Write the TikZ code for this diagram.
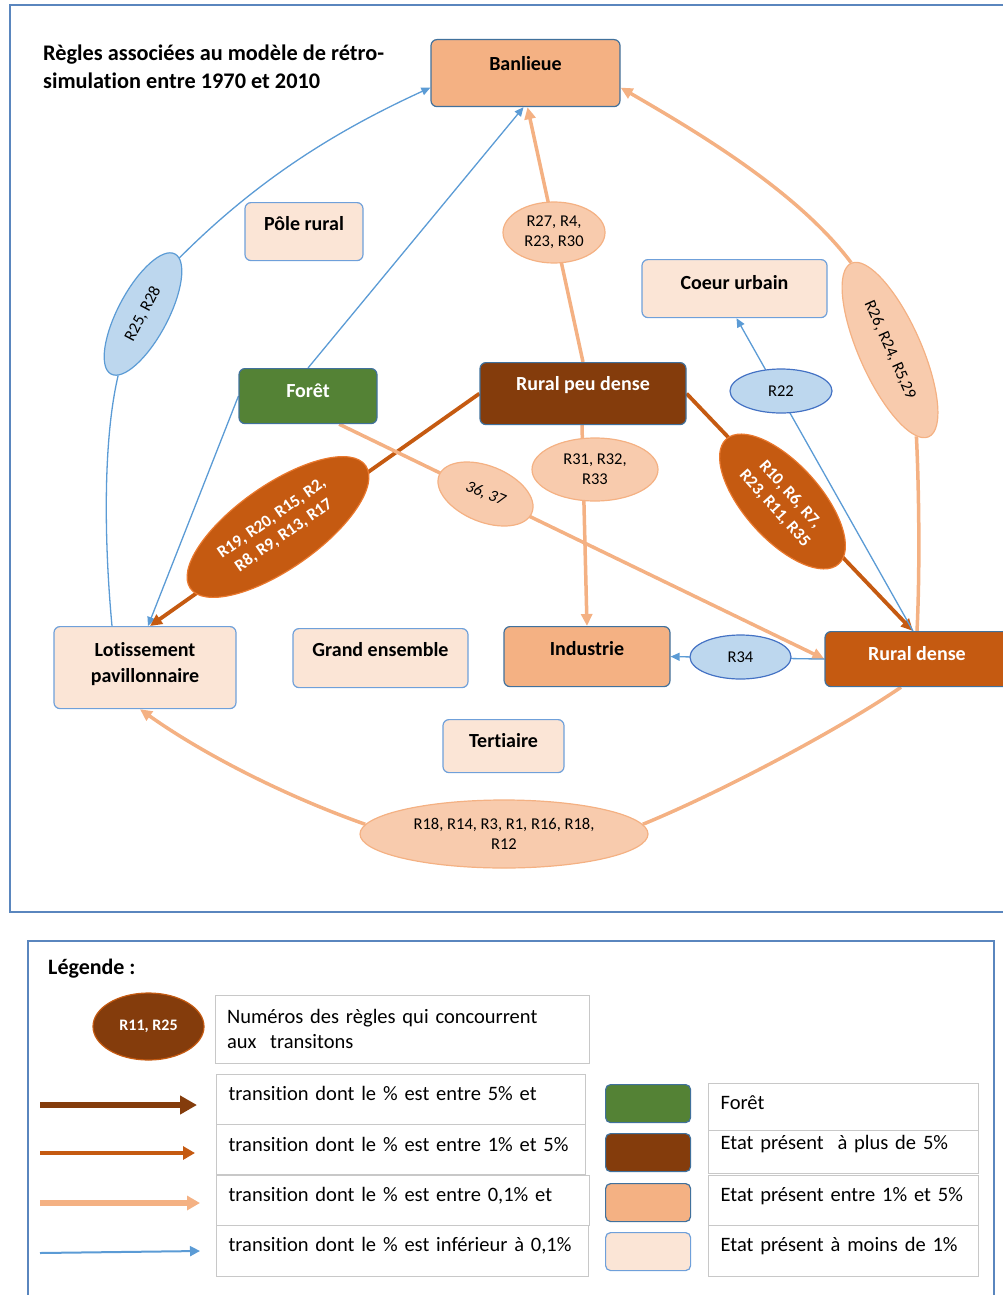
\documentclass[tikz,border=0pt]{standalone}
\usepackage{fontspec}
\setmainfont{Carlito}[Ligatures=NoCommon]
\usetikzlibrary{arrows.meta,shapes.geometric,calc}
\pgfdeclarelayer{bg}
\pgfsetlayers{bg,main}
\definecolor{dbrown}{HTML}{843C0C}
\definecolor{rust}{HTML}{C55A11}
\definecolor{rustedge}{HTML}{E9782E}
\definecolor{lorange}{HTML}{F4B183}
\definecolor{peach}{HTML}{F8CBAD}
\definecolor{cream}{HTML}{FBE5D6}
\definecolor{fgreen}{HTML}{548235}
\definecolor{lblue}{HTML}{5B9BD5}
\definecolor{pblue}{HTML}{BDD7EE}
\definecolor{mblue}{HTML}{4472C4}
\definecolor{dboxblue}{HTML}{41719C}
\definecolor{lboxblue}{HTML}{6FA0DA}
\definecolor{framec}{HTML}{5A86BE}
\definecolor{legrey}{HTML}{C8C8C8}
\tikzset{
 statebox/.style={rectangle, rounded corners=6pt, line width=1.2pt, inner sep=0pt, anchor=north, font=\fontsize{20}{26}\selectfont\bfseries},
 lightbox/.style={statebox, fill=cream, draw=lboxblue},
 midbox/.style={statebox, fill=lorange, draw=dboxblue},
 darkbox/.style={statebox, fill=dbrown, draw=dboxblue, text=white},
 greenbox/.style={statebox, fill=fgreen, draw=dboxblue, text=white},
 rustbox/.style={statebox, fill=rust, draw=dboxblue, text=white},
 ell/.style={ellipse, inner sep=0pt, line width=1.2pt, align=center, font=\fontsize{16.5}{20}\selectfont},
 peachell/.style={ell, fill=peach, draw=lorange},
 blueell/.style={ell, fill=pblue, draw=mblue},
 rustell/.style={ell, fill=rust, draw=rustedge, text=white, font=\fontsize{17}{21}\selectfont\bfseries},
 bluearr/.style={draw=lblue, line width=1.3pt, -{Triangle[length=9pt,width=8pt]}},
 bluelin/.style={draw=lblue, line width=1.3pt},
 orarr/.style={draw=lorange, line width=3.5pt, -{Triangle[length=12pt,width=11pt]}},
 orlin/.style={draw=lorange, line width=3.5pt},
 rustarr/.style={draw=rust, line width=3.8pt, -{Triangle[length=12pt,width=11pt]}},
 legbox/.style={draw=legrey, line width=1.2pt, fill=white, anchor=north west, inner ysep=0pt, inner xsep=12pt, align=left, font=\fontsize{20.5}{25}\selectfont},
 swatch/.style={rectangle, rounded corners=5pt, line width=1.2pt, draw=dboxblue, anchor=north west, minimum width=85pt, minimum height=38pt, inner sep=0pt},
}
\begin{document}
\begin{tikzpicture}[x=1pt,y=-1pt]
\clip (0,0) rectangle (1003,1295);
% frames
\draw[framec, line width=1.2pt] (10,5) rectangle (1015,912);
\draw[framec, line width=1.2pt] (28,941) rectangle (994,1310);

% title
\node[anchor=base west, inner sep=0pt, font=\fontsize{22.3}{28}\selectfont\bfseries] (title) at (43,61)
 {\begin{tabular}[t]{@{}l@{}}Règles associées au modèle de rétro-\\simulation entre 1970 et 2010\end{tabular}};

% state boxes
\node[midbox, minimum width=189pt, text height=30.5pt, text depth=36.5pt] (banl) at (525.5,39) {Banlieue};
\node[lightbox, minimum width=118pt, text height=27.5pt, text depth=30.5pt] (pole) at (304,202) {Pôle rural};
\node[greenbox, minimum width=138pt, text height=28.5pt, text depth=26.5pt] (foret) at (308,368) {Forêt};
\node[darkbox, minimum width=206pt, text height=27.5pt, text depth=34.5pt] (rpd) at (583,362) {Rural peu dense};
\node[lightbox, minimum width=185pt, text height=29.5pt, text depth=28.5pt] (coeur) at (734.5,259) {Coeur urbain};
\node[lightbox, minimum width=182pt, text height=29.5pt, text depth=52.5pt] (lot) at (145,626)
 {\begin{tabular}[t]{@{}c@{}}Lotissement\\pavillonnaire\end{tabular}};
\node[lightbox, minimum width=175pt, text height=27.5pt, text depth=31.5pt] (grand) at (380.5,628) {Grand ensemble};
\node[midbox, minimum width=166pt, text height=28.5pt, text depth=31.5pt] (ind) at (587,626) {Industrie};
\node[rustbox, minimum width=184pt, text height=28.5pt, text depth=26.5pt] (rd) at (917,631) {Rural dense};
\node[lightbox, minimum width=121pt, text height=27.5pt, text depth=25.5pt] (tert) at (503.5,719) {Tertiaire};

% rule ellipses
\node[peachell, minimum width=102pt, minimum height=61pt] (e27) at (554,232.5) {R27, R4,\\R23, R30};
\node[peachell, minimum width=126pt, minimum height=63pt] (e31) at (595,469.5) {R31, R32,\\R33};
\node[blueell, minimum width=102pt, minimum height=44pt] (e22) at (781,391) {R22};
\node[blueell, minimum width=101pt, minimum height=44pt] (e34) at (740.5,657) {R34};
\node[peachell, minimum width=288pt, minimum height=68pt] (e18) at (504,834) {R18, R14, R3, R1, R16, R18,\\R12};
\node[peachell, minimum width=100pt, minimum height=56pt, rotate=-22, font=\fontsize{16.5}{20}\selectfont\itshape] (e36) at (485.5,494) {36, 37};
\node[blueell, draw=lblue, minimum width=136pt, minimum height=50pt, rotate=62] (e25) at (143,314) {R25, R28};
\node[peachell, minimum width=190pt, minimum height=62pt, rotate=-66] (e26) at (890,350) {R26, R24, R5,29};
\node[rustell, minimum width=214pt, minimum height=84pt, rotate=35] (e19) at (278,527) {R19, R20, R15, R2,\\R8, R9, R13, R17};
\node[rustell, minimum width=168pt, minimum height=76pt, rotate=-48] (e10) at (782.5,501.5) {R10, R6, R7,\\R23, R11, R35};

% connectors
\begin{pgfonlayer}{bg}
\draw[bluelin] ([xshift=-33pt]lot.north) .. controls (104,540) and (103,440) .. (e25.186);
\draw[bluearr] (e25.-5) .. controls (260,177) and (340,129) .. ([yshift=-14.5pt]banl.west);
\draw[bluearr] (foret.north) -- ([xshift=-2pt]banl.south);
\draw[bluearr] (foret.west) -- ([xshift=3pt]lot.north);
\draw[rustarr] (rpd.west) -- ([xshift=5pt]lot.north);
\draw[orarr] (rpd.north) -- ([xshift=2pt]banl.south);
\draw[orarr] ([xshift=-1pt]rpd.south) -- (ind.north);
\draw[rustarr] (rpd.east) -- ([xshift=-4pt]rd.north);
\draw[orarr] (foret.-42.5) -- (rd.west);
\draw[bluearr] ([xshift=-4pt]rd.north) -- ([xshift=2pt]coeur.south);
\draw[orlin] (rd.north) .. controls (920,570) and (919,490) .. (e26.-7);
\draw[orarr] (e26.west) .. controls (798,192) and (699,133) .. ([yshift=-14.5pt]banl.east);
\draw[bluearr] (rd.west) -- (ind.east);
\draw[orlin] ([xshift=-16pt]rd.south) .. controls (835,732) and (719,793) .. (e18.4);
\draw[orarr] (e18.176) .. controls (288,797) and (206,756) .. ([xshift=-5pt]lot.south);
\end{pgfonlayer}

% legend
\node[anchor=west, inner sep=0pt, font=\fontsize{22}{26}\selectfont\bfseries] (legt) at (48,969) {Légende :};
\node[ellipse, fill=dbrown, draw=rust, line width=1.2pt, minimum width=111pt, minimum height=67pt, inner sep=0pt, text=white, font=\fontsize{16}{19}\selectfont\bfseries] (lege) at (148.5,1026.5) {R11, R25};
\node[legbox, text width=350pt, text height=27.5pt, text depth=40.5pt] (lb0) at (214.5,995)
 {\begin{tabular}[t]{@{}l@{}}Numéros des règles qui concourrent\\aux\ \ transitons\end{tabular}};
\node[legbox, text width=345pt, text height=26pt, text depth=24pt] (lb1) at (216,1074) {transition dont le \% est entre 5\% et};
\node[legbox, text width=345pt, text height=27pt, text depth=23pt] (lb2) at (216,1124) {transition dont le \% est entre 1\% et 5\%};
\node[legbox, text width=349pt, text height=26pt, text depth=24pt] (lb3) at (216,1175) {transition dont le \% est entre 0,1\% et};
\node[legbox, text width=348pt, text height=26pt, text depth=25pt] (lb4) at (216,1225) {transition dont le \% est inférieur à 0,1\%};

\node[swatch, fill=fgreen] (s1) at (605,1084) {};
\node[swatch, fill=dbrown] (s2) at (605,1133) {};
\node[swatch, fill=lorange] (s3) at (605,1183) {};
\node[swatch, fill=cream, draw=lboxblue] (s4) at (605,1232) {};

\node[legbox, text width=246pt, text height=26pt, text depth=21pt] (rb1) at (708,1083) {Forêt};
\node[legbox, text width=246pt, text height=19pt, text depth=24pt] (rb2) at (708,1130) {Etat présent\ \ à plus de 5\%};
\node[legbox, text width=246pt, text height=26pt, text depth=24pt] (rb3) at (708,1175) {Etat présent entre 1\% et 5\%};
\node[legbox, text width=246pt, text height=26pt, text depth=25pt] (rb4) at (708,1225) {Etat présent à moins de 1\%};

\coordinate (a1s) at (40,1105); \coordinate (a1e) at (197,1105);
\coordinate (a2s) at (40,1153); \coordinate (a2e) at (195,1153);
\coordinate (a3s) at (40,1203); \coordinate (a3e) at (200,1203);
\coordinate (a4s) at (40,1253); \coordinate (a4e) at (200,1251);
\draw[dbrown, line width=6pt, -{Triangle[length=17pt,width=18pt]}] (a1s) -- (a1e);
\draw[rust, line width=4pt, -{Triangle[length=12pt,width=13pt]}] (a2s) -- (a2e);
\draw[lorange, line width=5.5pt, -{Triangle[length=13pt,width=14pt]}] (a3s) -- (a3e);
\draw[lblue, line width=2pt, -{Triangle[length=10pt,width=10pt]}] (a4s) -- (a4e);
\end{tikzpicture}
\end{document}
